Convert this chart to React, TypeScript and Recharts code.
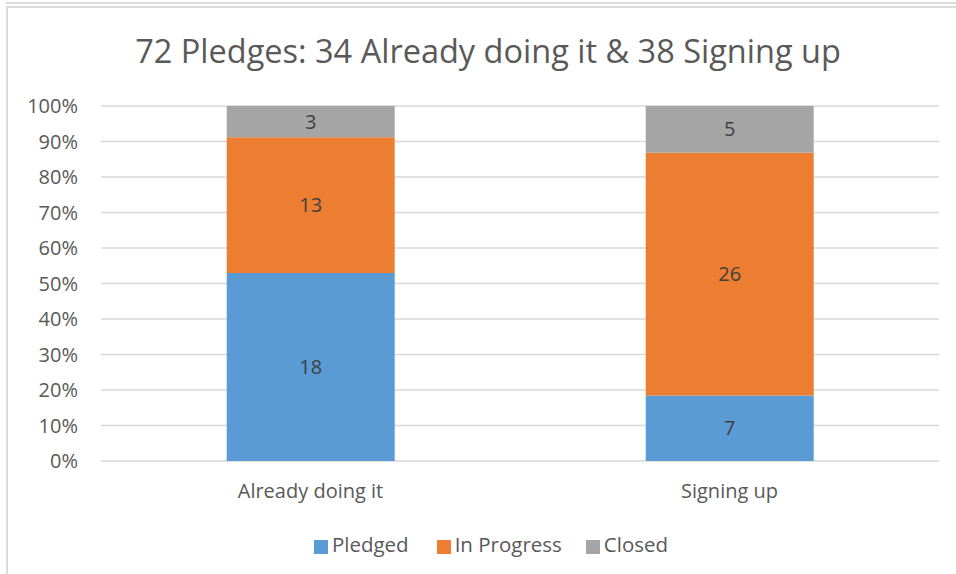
import { BarChart, Bar, XAxis, YAxis, CartesianGrid, Legend, LabelList } from "recharts";

const categories = ["Already doing it", "Signing up"];
const pledged = [18, 7];
const inProgress = [13, 26];
const closed = [3, 5];
const yTicks = [0, 0.1, 0.2, 0.3, 0.4, 0.5, 0.6, 0.7, 0.8, 0.9, 1];
const seriesOrder = ["Pledged", "In Progress", "Closed"];
const title = "72 Pledges: 34 Already doing it & 38 Signing up";

const FONT = "'Open Sans', sans-serif";
const TEXT = "#595959";

const data = categories.map((name, i) => ({
  name,
  pledged: pledged[i],
  inProgress: inProgress[i],
  closed: closed[i],
}));

export default function App() {
  return (
    <div style={{ position: "absolute", left: 0, top: 0, width: 956, height: 574, background: "#fff", fontFamily: FONT, overflow: "hidden" }}>
      {/* outer frame lines */}
      <div style={{ position: "absolute", left: 6, top: 2, right: 0, height: 2, background: "#dcdcdc" }} />
      <div style={{ position: "absolute", left: 6, top: 6, right: 0, height: 2, background: "#dcdcdc" }} />
      <div style={{ position: "absolute", left: 6, top: 6, width: 2, bottom: 0, background: "#dcdcdc" }} />
      <div
        style={{
          position: "absolute",
          left: 0,
          width: 976,
          top: 28,
          textAlign: "center",
          fontSize: 32.5,
          color: TEXT,
          whiteSpace: "nowrap",
        }}
      >
        {title}
      </div>
      <div style={{ position: "absolute", left: 0, top: 0 }}>
        <BarChart
          width={956}
          height={574}
          data={data}
          stackOffset="expand"
          barCategoryGap="30%"
          margin={{ top: 106, right: 17, bottom: 55, left: 0 }}
        >
          <CartesianGrid vertical={false} stroke="#d9d9d9" strokeWidth={1.5} />
          <XAxis
            dataKey="name"
            tickLine={false}
            axisLine={false}
            tick={{ fill: TEXT, fontSize: 20, fontFamily: FONT }}
            tickMargin={17}
          />
          <YAxis
            domain={[0, 1]}
            ticks={yTicks}
            width={101}
            tickLine={false}
            axisLine={false}
            tickMargin={17}
            tickFormatter={(v: number) => `${Math.round(v * 100)}%`}
            tick={{ fill: TEXT, fontSize: 20, fontFamily: FONT }}
          />
          <Legend
            verticalAlign="bottom"
            iconType="square"
            iconSize={14}
            itemSorter={(item: { value: string }) => seriesOrder.indexOf(item.value)}
            wrapperStyle={{ top: 530, left: 0, width: 992, fontSize: 20.5, fontFamily: FONT, color: TEXT }}
            formatter={(value: string) => (
              <span style={{ color: TEXT, marginRight: value === "Closed" ? 0 : value === "Pledged" ? 18 : 14 }}>{value}</span>
            )}
          />
          <Bar dataKey="pledged" name="Pledged" stackId="a" fill="#5b9bd5" isAnimationActive={false}>
            <LabelList dataKey="pledged" position="center" fill="#404040" fontSize={20} fontFamily={FONT} />
          </Bar>
          <Bar dataKey="inProgress" name="In Progress" stackId="a" fill="#ed7d31" isAnimationActive={false}>
            <LabelList dataKey="inProgress" position="center" fill="#404040" fontSize={20} fontFamily={FONT} />
          </Bar>
          <Bar dataKey="closed" name="Closed" stackId="a" fill="#a5a5a5" isAnimationActive={false}>
            <LabelList dataKey="closed" position="center" fill="#404040" fontSize={20} fontFamily={FONT} />
          </Bar>
        </BarChart>
      </div>
    </div>
  );
}
